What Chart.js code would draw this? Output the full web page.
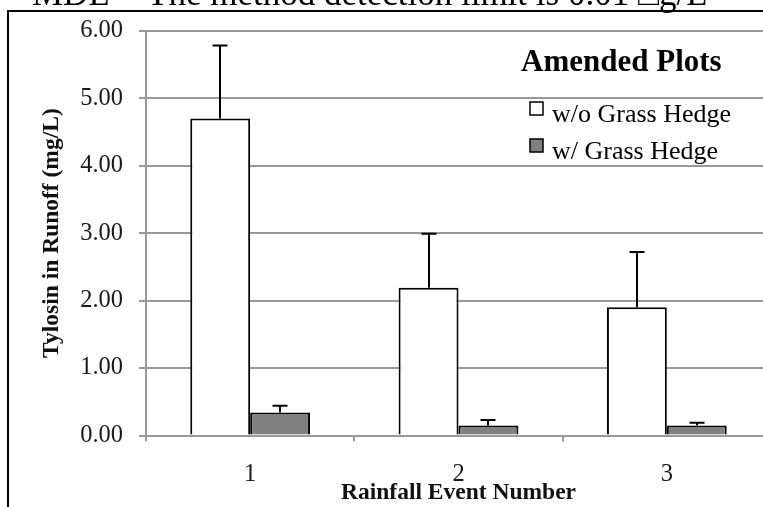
<!DOCTYPE html>
<html>
<head>
<meta charset="utf-8">
<script src="https://cdn.jsdelivr.net/npm/chart.js@4/dist/chart.umd.min.js"></script>
<style>
  html, body { margin: 0; padding: 0; background: #fff; overflow: hidden; width: 763px; height: 507px; }
  canvas { display: block; }
</style>
</head>
<body>
<canvas id="c" width="780" height="507"></canvas>
<script>
// Tylosin concentration in runoff, amended plots
const categories = ['1', '2', '3'];
const withoutHedge = [4.70, 2.19, 1.90];
const withHedge = [0.34, 0.15, 0.15];
const withoutHedgeErr = [1.08, 0.80, 0.82];
const withHedgeErr = [0.10, 0.08, 0.04];
const yTickLabels = ['0.00', '1.00', '2.00', '3.00', '4.00', '5.00', '6.00'];

const captionText = 'MDL = The method detection limit is 0.01 \u25A1g/L';
const legendTitle = 'Amended Plots';

const SERIF = "'Liberation Serif', 'Times New Roman', Times, serif";
Chart.defaults.font.family = SERIF;

// Upward-only error bars with a short cap; the category axis line is redrawn over the bar bases
const errorBars = {
  id: 'errorBars',
  afterDatasetsDraw(chart) {
    const ctx = chart.ctx;
    const y = chart.scales.y;
    const area = chart.chartArea;
    ctx.save();
    ctx.strokeStyle = '#999';
    ctx.lineWidth = 2;
    const y0 = Math.round(y.getPixelForValue(0));
    ctx.beginPath();
    ctx.moveTo(area.left, y0);
    ctx.lineTo(area.right, y0);
    ctx.stroke();

    ctx.strokeStyle = '#000';
    chart.data.datasets.forEach((ds, di) => {
      const meta = chart.getDatasetMeta(di);
      meta.data.forEach((bar, i) => {
        const top = y.getPixelForValue(ds.data[i] + ds.errors[i]);
        const x = Math.round(bar.x);
        ctx.beginPath();
        ctx.moveTo(x, bar.y);
        ctx.lineTo(x, top);
        ctx.moveTo(x - 7.5, top);
        ctx.lineTo(x + 7.5, top);
        ctx.stroke();
      });
    });
    ctx.restore();
  }
};

// Background, outer frame, clipped caption and legend box
const decor = {
  id: 'decor',
  beforeDraw(chart) {
    const ctx = chart.ctx;
    ctx.save();
    ctx.fillStyle = '#fff';
    ctx.fillRect(0, 0, chart.width, chart.height);
    ctx.restore();
  },
  afterDraw(chart) {
    const ctx = chart.ctx;
    ctx.save();
    // caption above the frame
    ctx.fillStyle = '#000';
    ctx.font = '35px ' + SERIF;
    ctx.textAlign = 'left';
    ctx.textBaseline = 'alphabetic';
    ctx.fillText(captionText, 32, 5);
    // frame
    ctx.strokeStyle = '#000';
    ctx.lineWidth = 2;
    ctx.beginPath();
    ctx.moveTo(8, 507);
    ctx.lineTo(8, 11);
    ctx.lineTo(chart.width, 11);
    ctx.stroke();
    // legend
    ctx.font = 'bold 31px ' + SERIF;
    ctx.fillText(legendTitle, 521, 71);
    ctx.font = '26px ' + SERIF;
    chart.data.datasets.forEach((ds, i) => {
      const base = 122 + i * 37;
      ctx.fillStyle = ds.backgroundColor;
      ctx.fillRect(530, base - 20, 13, 13);
      ctx.lineWidth = 1.5;
      ctx.strokeStyle = '#000';
      ctx.strokeRect(530, base - 20, 13, 13);
      ctx.fillStyle = '#000';
      ctx.fillText(ds.label, 552, base);
    });
    ctx.restore();
  }
};

new Chart(document.getElementById('c'), {
  type: 'bar',
  data: {
    labels: categories,
    datasets: [
      {
        label: 'w/o Grass Hedge',
        data: withoutHedge,
        errors: withoutHedgeErr,
        backgroundColor: '#ffffff',
        borderColor: '#000000',
        borderWidth: 2,
        borderSkipped: 'start'
      },
      {
        label: 'w/ Grass Hedge',
        data: withHedge,
        errors: withHedgeErr,
        backgroundColor: '#808080',
        borderColor: '#000000',
        borderWidth: 2,
        borderSkipped: 'start'
      }
    ]
  },
  options: {
    responsive: false,
    animation: false,
    devicePixelRatio: 1,
    layout: { padding: { left: 0, top: 27, right: 9, bottom: 0 } },
    datasets: { bar: { categoryPercentage: 0.575, barPercentage: 1.0 } },
    plugins: { legend: { display: false }, tooltip: { enabled: false } },
    scales: {
      x: {
        afterFit(s) { s.height = 71.5; },
        grid: { display: true, drawOnChartArea: false, drawTicks: true, tickLength: 6, color: '#999', lineWidth: 2, offset: true },
        border: { display: true, color: '#999', width: 2 },
        ticks: { color: '#1a1a1a', font: { size: 24.5 }, padding: 18, maxRotation: 0 },
        title: { display: true, text: 'Rainfall Event Number', color: '#111', font: { size: 23.5, weight: 'bold' }, padding: { top: 0, bottom: 0 } }
      },
      y: {
        min: 0,
        max: 6,
        afterFit(s) { s.width = 146; },
        ticks: {
          stepSize: 1,
          color: '#1a1a1a',
          font: { size: 24.5 },
          padding: 16,
          callback: (v) => yTickLabels[Math.round(v)]
        },
        grid: { color: '#999', lineWidth: 2, tickLength: 7, drawTicks: true },
        border: { display: true, color: '#999', width: 2 },
        title: { display: true, text: 'Tylosin in Runoff (mg/L)', color: '#111', font: { size: 23.5, weight: 'bold' }, padding: { top: 38, bottom: 0 } }
      }
    }
  },
  plugins: [decor, errorBars]
});
</script>
</body>
</html>
